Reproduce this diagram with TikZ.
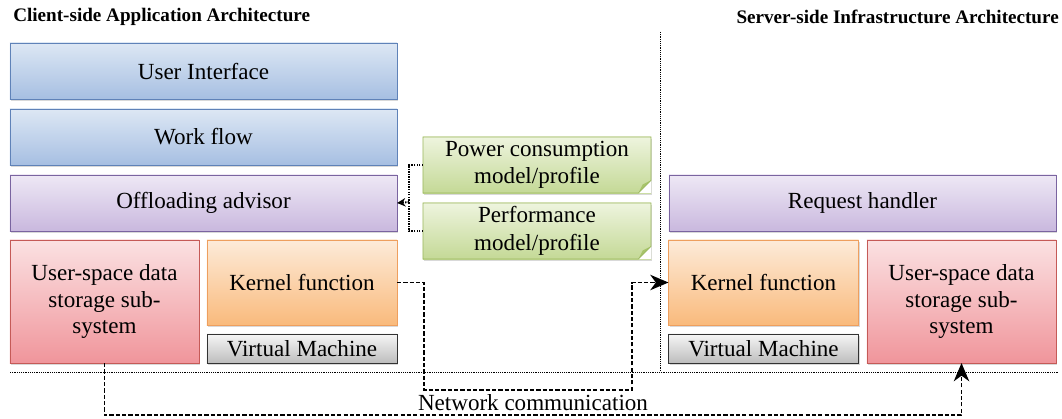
\documentclass[tikz,border=0pt]{standalone}
\usepackage{fontspec}
\setmainfont{Liberation Serif}
\usetikzlibrary{shadows,arrows.meta}
\definecolor{bluetop}{HTML}{DDE7F4}
\definecolor{bluebot}{HTML}{A6BFE2}
\definecolor{bluedraw}{HTML}{5F82B8}
\definecolor{purpletop}{HTML}{EEE8F5}
\definecolor{purplebot}{HTML}{C9B8DE}
\definecolor{purpledraw}{HTML}{7A64A0}
\definecolor{pinktop}{HTML}{FBE1E2}
\definecolor{pinkbot}{HTML}{F0959B}
\definecolor{pinkdraw}{HTML}{C55A57}
\definecolor{orangetop}{HTML}{FDEBD9}
\definecolor{orangebot}{HTML}{F9BA7C}
\definecolor{orangedraw}{HTML}{EE9F5E}
\definecolor{greytop}{HTML}{F6F6F6}
\definecolor{greybot}{HTML}{BDBDBD}
\definecolor{notetop}{HTML}{EEF4DE}
\definecolor{notebot}{HTML}{C4D996}
\definecolor{notedraw}{HTML}{9BB85E}
\definecolor{notefold}{HTML}{A7C46A}
\tikzstyle{layer}=[rectangle,inner sep=0pt,outer sep=0pt,align=center,font=\fontsize{16.4}{18.5}\selectfont,drop shadow={opacity=0.3,shadow xshift=0.8pt,shadow yshift=-1.2pt}]
\tikzstyle{bluebox}=[layer,draw=bluedraw,top color=bluetop,bottom color=bluebot,minimum width=9.675cm,minimum height=1.4cm]
\tikzstyle{purplebox}=[layer,draw=purpledraw,top color=purpletop,bottom color=purplebot,minimum width=9.675cm,minimum height=1.4cm]
\tikzstyle{pinkbox}=[layer,draw=pinkdraw,top color=pinktop,bottom color=pinkbot,minimum width=4.725cm,minimum height=3.075cm]
\tikzstyle{orangebox}=[layer,draw=orangedraw,top color=orangetop,bottom color=orangebot,minimum width=4.75cm,minimum height=2.125cm]
\tikzstyle{greybox}=[layer,draw=black!80,top color=greytop,bottom color=greybot,minimum width=4.75cm,minimum height=0.725cm]
\tikzstyle{notebox}=[layer,top color=notetop,bottom color=notebot,minimum width=5.7cm,minimum height=1.4cm,font=\fontsize{16.4}{19.5}\selectfont]
\tikzstyle{title}=[inner sep=0pt,font=\fontsize{13.6}{16}\selectfont\bfseries]
\tikzstyle{divider}=[line width=0.6pt,dash pattern=on 0.6pt off 0.7pt]
\tikzstyle{netlink}=[line width=1pt,dash pattern=on 3pt off 1.5pt,-{Stealth[length=13pt,width=11pt,inset=4pt]}]
\tikzstyle{advice}=[line width=1.4pt,dash pattern=on 1pt off 0.8pt]

\begin{document}
\begin{tikzpicture}[x=0.025cm,y=-0.025cm]
    \useasboundingbox (0,0) rectangle (1062,419);
    \node[title,anchor=west] (tc) at (13,17) {Client-side Application Architecture};
    \node[title,anchor=east] (ts) at (1059,17) {Server-side Infrastructure Architecture};

    \coordinate (d1) at (660,32);
    \coordinate (d2) at (660,372);
    \coordinate (d3) at (10,372);
    \coordinate (d4) at (1058,372);
    \draw[divider] (d1) -- (d2);
    \draw[divider] (d3) -- (d4);

    % client side
    \node[bluebox] (ui) at (203.5,71) {User Interface};
    \node[bluebox] (wf) at (203.5,137) {Work flow};
    \node[purplebox] (adv) at (203.5,203) {Offloading advisor};
    \node[pinkbox] (usc) at (104.5,301.5) {User-space data\\storage sub-\\system};
    \node[orangebox] (kfc) at (302,282.5) {Kernel function};
    \node[greybox] (vmc) at (302,348.5) {Virtual Machine};

    % models
    \node[notebox] (pwr) at (537,165) {Power consumption\\model/profile};
    \node[notebox] (prf) at (537,231) {Performance\\model/profile};
    \foreach \n in {pwr,prf} {
    \fill[white] ([xshift=-9pt]\n.south east) -- (\n.south east) -- ([yshift=9pt]\n.south east) -- cycle;
    \fill[notefold] ([xshift=-9pt]\n.south east) -- ([yshift=9pt]\n.south east) -- ([xshift=-6pt,yshift=6pt]\n.south east) -- cycle;
    \draw[notedraw,line width=0.5pt] (\n.south west) -- (\n.north west) -- (\n.north east) -- ([yshift=9pt]\n.south east) -- ([xshift=-9pt]\n.south east) -- cycle;
    }

    % server side
    \node[purplebox] (rh) at (862.5,203) {Request handler};
    \node[orangebox] (kfs) at (763.5,282.5) {Kernel function};
    \node[greybox] (vms) at (763.5,348.5) {Virtual Machine};
    \node[pinkbox] (uss) at (961.5,301.5) {User-space data\\storage sub-\\system};

    % links
    \coordinate (b1) at (409,202);
    \draw[advice] (pwr.west) -| (b1);
    \draw[advice] (prf.west) -| (b1);
    \draw[advice,-{Stealth[length=6pt,width=6pt]}] (b1) -- (adv.east);

    \coordinate (n1) at (424,390);
    \coordinate (n2) at (632,390);
    \coordinate (n3) at (500,415);
    \draw[netlink] (kfc.east) -| (n1) -- (n2) |- (kfs.west);
    \draw[netlink] (usc.south) |- (n3) -| (uss.south);
    \node[font=\fontsize{16.4}{18.5}\selectfont] (net) at (533,403) {Network communication};
\end{tikzpicture}
\end{document}
